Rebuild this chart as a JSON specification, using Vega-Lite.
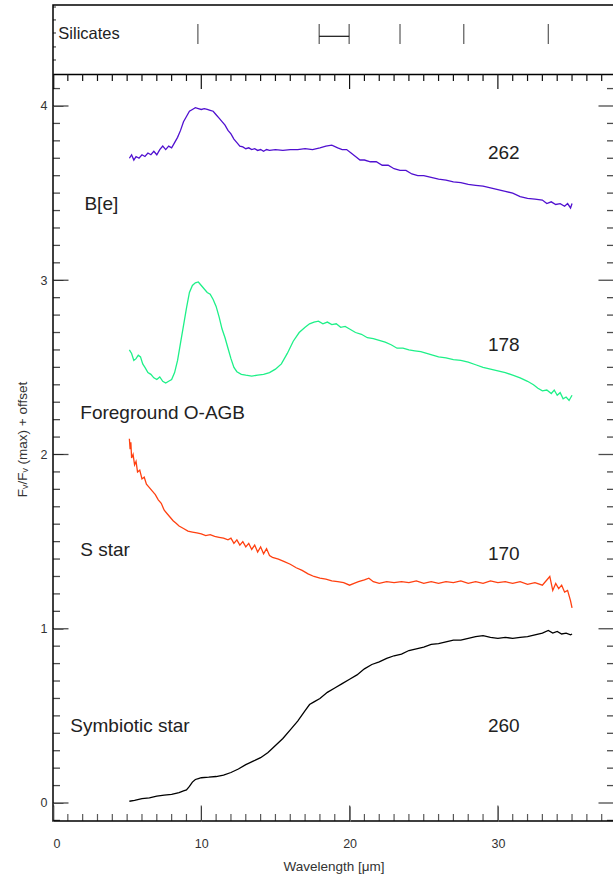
{
  "$schema": "https://vega.github.io/schema/vega-lite/v6.json",
  "autosize": {"type": "none"},
  "padding": {"left": 53, "top": 5, "right": 0, "bottom": 56},
  "width": 561,
  "height": 816,
  "config": {
    "view": {"stroke": "#000", "strokeWidth": 1.5},
    "font": "Liberation Sans",
    "axis": {"grid": false, "domain": false, "labelFont": "Liberation Sans", "titleFont": "Liberation Sans", "labelColor": "#333", "titleColor": "#333", "labelFontSize": 12.5, "titleFontSize": 13.5, "titleFontWeight": "normal"}
  },
  "datasets": {
    "spectra": [
      {"star":"B[e]","wl":5.15,"f":3.70},{"star":"B[e]","wl":5.3,"f":3.72},{"star":"B[e]","wl":5.45,"f":3.69},{"star":"B[e]","wl":5.6,"f":3.71},{"star":"B[e]","wl":5.8,"f":3.70},{"star":"B[e]","wl":6.0,"f":3.72},{"star":"B[e]","wl":6.2,"f":3.71},{"star":"B[e]","wl":6.4,"f":3.73},{"star":"B[e]","wl":6.6,"f":3.72},{"star":"B[e]","wl":6.8,"f":3.74},{"star":"B[e]","wl":7.0,"f":3.72},{"star":"B[e]","wl":7.2,"f":3.75},{"star":"B[e]","wl":7.4,"f":3.77},{"star":"B[e]","wl":7.6,"f":3.75},{"star":"B[e]","wl":7.8,"f":3.77},{"star":"B[e]","wl":8.0,"f":3.76},{"star":"B[e]","wl":8.2,"f":3.79},{"star":"B[e]","wl":8.4,"f":3.82},{"star":"B[e]","wl":8.6,"f":3.86},{"star":"B[e]","wl":8.8,"f":3.91},{"star":"B[e]","wl":9.0,"f":3.94},{"star":"B[e]","wl":9.2,"f":3.97},{"star":"B[e]","wl":9.4,"f":3.98},{"star":"B[e]","wl":9.6,"f":3.99},{"star":"B[e]","wl":9.8,"f":3.985},{"star":"B[e]","wl":10.0,"f":3.98},{"star":"B[e]","wl":10.2,"f":3.985},{"star":"B[e]","wl":10.4,"f":3.98},{"star":"B[e]","wl":10.6,"f":3.975},{"star":"B[e]","wl":10.8,"f":3.97},{"star":"B[e]","wl":11.0,"f":3.95},{"star":"B[e]","wl":11.2,"f":3.93},{"star":"B[e]","wl":11.4,"f":3.91},{"star":"B[e]","wl":11.6,"f":3.89},{"star":"B[e]","wl":11.8,"f":3.86},{"star":"B[e]","wl":12.0,"f":3.84},{"star":"B[e]","wl":12.2,"f":3.81},{"star":"B[e]","wl":12.4,"f":3.79},{"star":"B[e]","wl":12.6,"f":3.77},{"star":"B[e]","wl":12.8,"f":3.765},{"star":"B[e]","wl":13.0,"f":3.755},{"star":"B[e]","wl":13.2,"f":3.76},{"star":"B[e]","wl":13.4,"f":3.75},{"star":"B[e]","wl":13.6,"f":3.755},{"star":"B[e]","wl":13.8,"f":3.745},{"star":"B[e]","wl":14.0,"f":3.75},{"star":"B[e]","wl":14.2,"f":3.74},{"star":"B[e]","wl":14.4,"f":3.75},{"star":"B[e]","wl":14.6,"f":3.745},{"star":"B[e]","wl":15.0,"f":3.75},{"star":"B[e]","wl":15.5,"f":3.745},{"star":"B[e]","wl":16.0,"f":3.75},{"star":"B[e]","wl":16.5,"f":3.75},{"star":"B[e]","wl":17.0,"f":3.755},{"star":"B[e]","wl":17.5,"f":3.75},{"star":"B[e]","wl":18.0,"f":3.76},{"star":"B[e]","wl":18.4,"f":3.77},{"star":"B[e]","wl":18.8,"f":3.775},{"star":"B[e]","wl":19.2,"f":3.76},{"star":"B[e]","wl":19.5,"f":3.75},{"star":"B[e]","wl":19.8,"f":3.75},{"star":"B[e]","wl":20.1,"f":3.73},{"star":"B[e]","wl":20.4,"f":3.71},{"star":"B[e]","wl":20.7,"f":3.69},{"star":"B[e]","wl":21.0,"f":3.69},{"star":"B[e]","wl":21.4,"f":3.68},{"star":"B[e]","wl":21.8,"f":3.68},{"star":"B[e]","wl":22.2,"f":3.66},{"star":"B[e]","wl":22.6,"f":3.66},{"star":"B[e]","wl":23.0,"f":3.64},{"star":"B[e]","wl":23.4,"f":3.63},{"star":"B[e]","wl":23.8,"f":3.63},{"star":"B[e]","wl":24.2,"f":3.61},{"star":"B[e]","wl":24.6,"f":3.60},{"star":"B[e]","wl":25.0,"f":3.60},{"star":"B[e]","wl":25.5,"f":3.59},{"star":"B[e]","wl":26.0,"f":3.58},{"star":"B[e]","wl":26.5,"f":3.575},{"star":"B[e]","wl":27.0,"f":3.565},{"star":"B[e]","wl":27.5,"f":3.56},{"star":"B[e]","wl":28.0,"f":3.55},{"star":"B[e]","wl":28.5,"f":3.545},{"star":"B[e]","wl":29.0,"f":3.54},{"star":"B[e]","wl":29.5,"f":3.53},{"star":"B[e]","wl":30.0,"f":3.52},{"star":"B[e]","wl":30.5,"f":3.51},{"star":"B[e]","wl":31.0,"f":3.50},{"star":"B[e]","wl":31.5,"f":3.48},{"star":"B[e]","wl":32.0,"f":3.47},{"star":"B[e]","wl":32.5,"f":3.465},{"star":"B[e]","wl":33.0,"f":3.46},{"star":"B[e]","wl":33.3,"f":3.44},{"star":"B[e]","wl":33.6,"f":3.45},{"star":"B[e]","wl":33.9,"f":3.435},{"star":"B[e]","wl":34.2,"f":3.44},{"star":"B[e]","wl":34.5,"f":3.425},{"star":"B[e]","wl":34.7,"f":3.44},{"star":"B[e]","wl":34.9,"f":3.415},{"star":"B[e]","wl":35.0,"f":3.44},
      {"star":"Foreground O-AGB","wl":5.15,"f":2.60},{"star":"Foreground O-AGB","wl":5.3,"f":2.58},{"star":"Foreground O-AGB","wl":5.45,"f":2.54},{"star":"Foreground O-AGB","wl":5.6,"f":2.55},{"star":"Foreground O-AGB","wl":5.75,"f":2.57},{"star":"Foreground O-AGB","wl":5.9,"f":2.56},{"star":"Foreground O-AGB","wl":6.05,"f":2.52},{"star":"Foreground O-AGB","wl":6.2,"f":2.50},{"star":"Foreground O-AGB","wl":6.4,"f":2.47},{"star":"Foreground O-AGB","wl":6.6,"f":2.46},{"star":"Foreground O-AGB","wl":6.8,"f":2.44},{"star":"Foreground O-AGB","wl":7.0,"f":2.43},{"star":"Foreground O-AGB","wl":7.2,"f":2.445},{"star":"Foreground O-AGB","wl":7.4,"f":2.42},{"star":"Foreground O-AGB","wl":7.6,"f":2.41},{"star":"Foreground O-AGB","wl":7.8,"f":2.42},{"star":"Foreground O-AGB","wl":8.0,"f":2.43},{"star":"Foreground O-AGB","wl":8.2,"f":2.47},{"star":"Foreground O-AGB","wl":8.4,"f":2.54},{"star":"Foreground O-AGB","wl":8.6,"f":2.64},{"star":"Foreground O-AGB","wl":8.8,"f":2.74},{"star":"Foreground O-AGB","wl":9.0,"f":2.84},{"star":"Foreground O-AGB","wl":9.2,"f":2.93},{"star":"Foreground O-AGB","wl":9.4,"f":2.97},{"star":"Foreground O-AGB","wl":9.6,"f":2.985},{"star":"Foreground O-AGB","wl":9.8,"f":2.99},{"star":"Foreground O-AGB","wl":10.0,"f":2.97},{"star":"Foreground O-AGB","wl":10.2,"f":2.95},{"star":"Foreground O-AGB","wl":10.4,"f":2.93},{"star":"Foreground O-AGB","wl":10.6,"f":2.92},{"star":"Foreground O-AGB","wl":10.8,"f":2.89},{"star":"Foreground O-AGB","wl":11.0,"f":2.85},{"star":"Foreground O-AGB","wl":11.2,"f":2.79},{"star":"Foreground O-AGB","wl":11.4,"f":2.72},{"star":"Foreground O-AGB","wl":11.6,"f":2.67},{"star":"Foreground O-AGB","wl":11.8,"f":2.61},{"star":"Foreground O-AGB","wl":12.0,"f":2.55},{"star":"Foreground O-AGB","wl":12.2,"f":2.50},{"star":"Foreground O-AGB","wl":12.4,"f":2.475},{"star":"Foreground O-AGB","wl":12.7,"f":2.46},{"star":"Foreground O-AGB","wl":13.0,"f":2.455},{"star":"Foreground O-AGB","wl":13.4,"f":2.45},{"star":"Foreground O-AGB","wl":13.8,"f":2.455},{"star":"Foreground O-AGB","wl":14.2,"f":2.46},{"star":"Foreground O-AGB","wl":14.6,"f":2.47},{"star":"Foreground O-AGB","wl":15.0,"f":2.49},{"star":"Foreground O-AGB","wl":15.4,"f":2.52},{"star":"Foreground O-AGB","wl":15.8,"f":2.58},{"star":"Foreground O-AGB","wl":16.2,"f":2.65},{"star":"Foreground O-AGB","wl":16.6,"f":2.70},{"star":"Foreground O-AGB","wl":17.0,"f":2.73},{"star":"Foreground O-AGB","wl":17.3,"f":2.75},{"star":"Foreground O-AGB","wl":17.6,"f":2.76},{"star":"Foreground O-AGB","wl":17.9,"f":2.765},{"star":"Foreground O-AGB","wl":18.2,"f":2.75},{"star":"Foreground O-AGB","wl":18.5,"f":2.76},{"star":"Foreground O-AGB","wl":18.8,"f":2.745},{"star":"Foreground O-AGB","wl":19.1,"f":2.75},{"star":"Foreground O-AGB","wl":19.4,"f":2.73},{"star":"Foreground O-AGB","wl":19.7,"f":2.735},{"star":"Foreground O-AGB","wl":20.0,"f":2.72},{"star":"Foreground O-AGB","wl":20.4,"f":2.70},{"star":"Foreground O-AGB","wl":20.8,"f":2.69},{"star":"Foreground O-AGB","wl":21.2,"f":2.67},{"star":"Foreground O-AGB","wl":21.6,"f":2.665},{"star":"Foreground O-AGB","wl":22.0,"f":2.655},{"star":"Foreground O-AGB","wl":22.4,"f":2.645},{"star":"Foreground O-AGB","wl":22.8,"f":2.63},{"star":"Foreground O-AGB","wl":23.2,"f":2.61},{"star":"Foreground O-AGB","wl":23.6,"f":2.61},{"star":"Foreground O-AGB","wl":24.0,"f":2.60},{"star":"Foreground O-AGB","wl":24.4,"f":2.595},{"star":"Foreground O-AGB","wl":24.8,"f":2.59},{"star":"Foreground O-AGB","wl":25.2,"f":2.58},{"star":"Foreground O-AGB","wl":25.6,"f":2.57},{"star":"Foreground O-AGB","wl":26.0,"f":2.56},{"star":"Foreground O-AGB","wl":26.5,"f":2.555},{"star":"Foreground O-AGB","wl":27.0,"f":2.545},{"star":"Foreground O-AGB","wl":27.5,"f":2.54},{"star":"Foreground O-AGB","wl":28.0,"f":2.53},{"star":"Foreground O-AGB","wl":28.5,"f":2.515},{"star":"Foreground O-AGB","wl":29.0,"f":2.50},{"star":"Foreground O-AGB","wl":29.5,"f":2.49},{"star":"Foreground O-AGB","wl":30.0,"f":2.48},{"star":"Foreground O-AGB","wl":30.5,"f":2.47},{"star":"Foreground O-AGB","wl":31.0,"f":2.455},{"star":"Foreground O-AGB","wl":31.5,"f":2.44},{"star":"Foreground O-AGB","wl":32.0,"f":2.42},{"star":"Foreground O-AGB","wl":32.4,"f":2.40},{"star":"Foreground O-AGB","wl":32.7,"f":2.38},{"star":"Foreground O-AGB","wl":33.0,"f":2.365},{"star":"Foreground O-AGB","wl":33.3,"f":2.37},{"star":"Foreground O-AGB","wl":33.6,"f":2.35},{"star":"Foreground O-AGB","wl":33.8,"f":2.37},{"star":"Foreground O-AGB","wl":34.0,"f":2.34},{"star":"Foreground O-AGB","wl":34.2,"f":2.355},{"star":"Foreground O-AGB","wl":34.4,"f":2.32},{"star":"Foreground O-AGB","wl":34.6,"f":2.33},{"star":"Foreground O-AGB","wl":34.8,"f":2.31},{"star":"Foreground O-AGB","wl":35.0,"f":2.34},
      {"star":"S star","wl":5.15,"f":2.09},{"star":"S star","wl":5.2,"f":2.03},{"star":"S star","wl":5.25,"f":2.07},{"star":"S star","wl":5.3,"f":1.98},{"star":"S star","wl":5.4,"f":2.00},{"star":"S star","wl":5.5,"f":1.94},{"star":"S star","wl":5.6,"f":1.96},{"star":"S star","wl":5.7,"f":1.90},{"star":"S star","wl":5.85,"f":1.91},{"star":"S star","wl":6.0,"f":1.86},{"star":"S star","wl":6.15,"f":1.87},{"star":"S star","wl":6.3,"f":1.83},{"star":"S star","wl":6.5,"f":1.81},{"star":"S star","wl":6.7,"f":1.79},{"star":"S star","wl":6.9,"f":1.77},{"star":"S star","wl":7.1,"f":1.74},{"star":"S star","wl":7.3,"f":1.72},{"star":"S star","wl":7.5,"f":1.68},{"star":"S star","wl":7.7,"f":1.66},{"star":"S star","wl":7.9,"f":1.64},{"star":"S star","wl":8.1,"f":1.62},{"star":"S star","wl":8.3,"f":1.605},{"star":"S star","wl":8.5,"f":1.59},{"star":"S star","wl":8.8,"f":1.575},{"star":"S star","wl":9.1,"f":1.56},{"star":"S star","wl":9.4,"f":1.555},{"star":"S star","wl":9.7,"f":1.55},{"star":"S star","wl":10.0,"f":1.545},{"star":"S star","wl":10.3,"f":1.535},{"star":"S star","wl":10.6,"f":1.54},{"star":"S star","wl":10.9,"f":1.53},{"star":"S star","wl":11.2,"f":1.525},{"star":"S star","wl":11.5,"f":1.52},{"star":"S star","wl":11.8,"f":1.51},{"star":"S star","wl":12.0,"f":1.52},{"star":"S star","wl":12.2,"f":1.49},{"star":"S star","wl":12.4,"f":1.51},{"star":"S star","wl":12.6,"f":1.48},{"star":"S star","wl":12.8,"f":1.50},{"star":"S star","wl":13.0,"f":1.47},{"star":"S star","wl":13.2,"f":1.49},{"star":"S star","wl":13.4,"f":1.455},{"star":"S star","wl":13.6,"f":1.48},{"star":"S star","wl":13.8,"f":1.44},{"star":"S star","wl":14.0,"f":1.47},{"star":"S star","wl":14.2,"f":1.43},{"star":"S star","wl":14.4,"f":1.46},{"star":"S star","wl":14.6,"f":1.42},{"star":"S star","wl":14.8,"f":1.41},{"star":"S star","wl":15.2,"f":1.40},{"star":"S star","wl":15.6,"f":1.385},{"star":"S star","wl":16.0,"f":1.37},{"star":"S star","wl":16.4,"f":1.35},{"star":"S star","wl":16.8,"f":1.335},{"star":"S star","wl":17.2,"f":1.315},{"star":"S star","wl":17.6,"f":1.30},{"star":"S star","wl":18.0,"f":1.29},{"star":"S star","wl":18.4,"f":1.285},{"star":"S star","wl":18.8,"f":1.275},{"star":"S star","wl":19.2,"f":1.27},{"star":"S star","wl":19.6,"f":1.265},{"star":"S star","wl":20.0,"f":1.25},{"star":"S star","wl":20.3,"f":1.26},{"star":"S star","wl":20.6,"f":1.27},{"star":"S star","wl":21.0,"f":1.28},{"star":"S star","wl":21.3,"f":1.29},{"star":"S star","wl":21.6,"f":1.27},{"star":"S star","wl":22.0,"f":1.26},{"star":"S star","wl":22.5,"f":1.27},{"star":"S star","wl":23.0,"f":1.265},{"star":"S star","wl":23.5,"f":1.27},{"star":"S star","wl":24.0,"f":1.265},{"star":"S star","wl":24.5,"f":1.275},{"star":"S star","wl":25.0,"f":1.26},{"star":"S star","wl":25.5,"f":1.27},{"star":"S star","wl":26.0,"f":1.26},{"star":"S star","wl":26.5,"f":1.27},{"star":"S star","wl":27.0,"f":1.265},{"star":"S star","wl":27.5,"f":1.275},{"star":"S star","wl":28.0,"f":1.26},{"star":"S star","wl":28.5,"f":1.27},{"star":"S star","wl":29.0,"f":1.26},{"star":"S star","wl":29.5,"f":1.275},{"star":"S star","wl":30.0,"f":1.265},{"star":"S star","wl":30.5,"f":1.27},{"star":"S star","wl":31.0,"f":1.26},{"star":"S star","wl":31.5,"f":1.27},{"star":"S star","wl":32.0,"f":1.255},{"star":"S star","wl":32.5,"f":1.265},{"star":"S star","wl":33.0,"f":1.25},{"star":"S star","wl":33.3,"f":1.28},{"star":"S star","wl":33.5,"f":1.30},{"star":"S star","wl":33.7,"f":1.22},{"star":"S star","wl":33.9,"f":1.26},{"star":"S star","wl":34.1,"f":1.23},{"star":"S star","wl":34.3,"f":1.25},{"star":"S star","wl":34.5,"f":1.21},{"star":"S star","wl":34.7,"f":1.22},{"star":"S star","wl":34.9,"f":1.16},{"star":"S star","wl":35.0,"f":1.12},
      {"star":"Symbiotic star","wl":5.15,"f":0.01},{"star":"Symbiotic star","wl":5.5,"f":0.015},{"star":"Symbiotic star","wl":6.0,"f":0.025},{"star":"Symbiotic star","wl":6.5,"f":0.03},{"star":"Symbiotic star","wl":7.0,"f":0.04},{"star":"Symbiotic star","wl":7.5,"f":0.045},{"star":"Symbiotic star","wl":8.0,"f":0.05},{"star":"Symbiotic star","wl":8.5,"f":0.06},{"star":"Symbiotic star","wl":8.8,"f":0.07},{"star":"Symbiotic star","wl":9.0,"f":0.075},{"star":"Symbiotic star","wl":9.2,"f":0.095},{"star":"Symbiotic star","wl":9.4,"f":0.12},{"star":"Symbiotic star","wl":9.6,"f":0.135},{"star":"Symbiotic star","wl":9.8,"f":0.14},{"star":"Symbiotic star","wl":10.0,"f":0.145},{"star":"Symbiotic star","wl":10.5,"f":0.148},{"star":"Symbiotic star","wl":11.0,"f":0.152},{"star":"Symbiotic star","wl":11.5,"f":0.16},{"star":"Symbiotic star","wl":12.0,"f":0.175},{"star":"Symbiotic star","wl":12.5,"f":0.195},{"star":"Symbiotic star","wl":13.0,"f":0.22},{"star":"Symbiotic star","wl":13.5,"f":0.24},{"star":"Symbiotic star","wl":14.0,"f":0.26},{"star":"Symbiotic star","wl":14.5,"f":0.29},{"star":"Symbiotic star","wl":15.0,"f":0.33},{"star":"Symbiotic star","wl":15.5,"f":0.37},{"star":"Symbiotic star","wl":16.0,"f":0.42},{"star":"Symbiotic star","wl":16.5,"f":0.47},{"star":"Symbiotic star","wl":17.0,"f":0.53},{"star":"Symbiotic star","wl":17.3,"f":0.565},{"star":"Symbiotic star","wl":17.6,"f":0.58},{"star":"Symbiotic star","wl":18.0,"f":0.60},{"star":"Symbiotic star","wl":18.5,"f":0.635},{"star":"Symbiotic star","wl":19.0,"f":0.66},{"star":"Symbiotic star","wl":19.5,"f":0.685},{"star":"Symbiotic star","wl":20.0,"f":0.71},{"star":"Symbiotic star","wl":20.5,"f":0.735},{"star":"Symbiotic star","wl":21.0,"f":0.77},{"star":"Symbiotic star","wl":21.5,"f":0.795},{"star":"Symbiotic star","wl":22.0,"f":0.81},{"star":"Symbiotic star","wl":22.5,"f":0.83},{"star":"Symbiotic star","wl":23.0,"f":0.845},{"star":"Symbiotic star","wl":23.5,"f":0.855},{"star":"Symbiotic star","wl":24.0,"f":0.875},{"star":"Symbiotic star","wl":24.5,"f":0.885},{"star":"Symbiotic star","wl":25.0,"f":0.895},{"star":"Symbiotic star","wl":25.5,"f":0.91},{"star":"Symbiotic star","wl":26.0,"f":0.915},{"star":"Symbiotic star","wl":26.5,"f":0.925},{"star":"Symbiotic star","wl":27.0,"f":0.935},{"star":"Symbiotic star","wl":27.5,"f":0.935},{"star":"Symbiotic star","wl":28.0,"f":0.945},{"star":"Symbiotic star","wl":28.5,"f":0.955},{"star":"Symbiotic star","wl":29.0,"f":0.96},{"star":"Symbiotic star","wl":29.5,"f":0.95},{"star":"Symbiotic star","wl":30.0,"f":0.945},{"star":"Symbiotic star","wl":30.5,"f":0.95},{"star":"Symbiotic star","wl":31.0,"f":0.945},{"star":"Symbiotic star","wl":31.5,"f":0.95},{"star":"Symbiotic star","wl":32.0,"f":0.955},{"star":"Symbiotic star","wl":32.5,"f":0.965},{"star":"Symbiotic star","wl":33.0,"f":0.975},{"star":"Symbiotic star","wl":33.4,"f":0.99},{"star":"Symbiotic star","wl":33.7,"f":0.975},{"star":"Symbiotic star","wl":34.0,"f":0.985},{"star":"Symbiotic star","wl":34.3,"f":0.97},{"star":"Symbiotic star","wl":34.6,"f":0.975},{"star":"Symbiotic star","wl":34.9,"f":0.965},{"star":"Symbiotic star","wl":35.0,"f":0.97}
    ],
    "numbers": [
      {"t":"262","wl":30.4,"f":3.73},
      {"t":"178","wl":30.4,"f":2.63},
      {"t":"170","wl":30.4,"f":1.43},
      {"t":"260","wl":30.4,"f":0.44}
    ],
    "names": [
      {"t":"B[e]","wl":2.12,"f":3.44},
      {"t":"Foreground O-AGB","wl":1.84,"f":2.24},
      {"t":"S star","wl":1.84,"f":1.45},
      {"t":"Symbiotic star","wl":1.17,"f":0.44}
    ],
    "panel": [
      {"t":"Silicates","wl":0.36,"f":4.413}
    ],
    "features": [
      {"wl":9.77},
      {"wl":17.95,"wl2":19.97},
      {"wl":23.4},
      {"wl":27.7},
      {"wl":33.4}
    ],
    "wlaxis": [
      {"wl":0.05,"k":"major"},{"wl":1.0,"k":"minor"},{"wl":2.0,"k":"minor"},{"wl":3.0,"k":"minor"},{"wl":4.0,"k":"minor"},{"wl":5.0,"k":"minor"},{"wl":6.0,"k":"minor"},{"wl":7.0,"k":"minor"},{"wl":8.0,"k":"minor"},{"wl":9.0,"k":"minor"},
      {"wl":10.0,"k":"major"},{"wl":11.0,"k":"minor"},{"wl":12.0,"k":"minor"},{"wl":13.0,"k":"minor"},{"wl":14.0,"k":"minor"},{"wl":15.0,"k":"minor"},{"wl":16.0,"k":"minor"},{"wl":17.0,"k":"minor"},{"wl":18.0,"k":"minor"},{"wl":19.0,"k":"minor"},
      {"wl":20.0,"k":"major"},{"wl":21.0,"k":"minor"},{"wl":22.0,"k":"minor"},{"wl":23.0,"k":"minor"},{"wl":24.0,"k":"minor"},{"wl":25.0,"k":"minor"},{"wl":26.0,"k":"minor"},{"wl":27.0,"k":"minor"},{"wl":28.0,"k":"minor"},{"wl":29.0,"k":"minor"},
      {"wl":30.0,"k":"major"},{"wl":31.0,"k":"minor"},{"wl":32.0,"k":"minor"},{"wl":33.0,"k":"minor"},{"wl":34.0,"k":"minor"},{"wl":35.0,"k":"minor"},{"wl":36.0,"k":"minor"},{"wl":37.0,"k":"minor"}
    ],
    "yticks": [
      {"v":-0.1,"k":"minor"},{"v":0,"k":"major"},{"v":0.1,"k":"minor"},{"v":0.2,"k":"minor"},{"v":0.3,"k":"minor"},{"v":0.4,"k":"minor"},{"v":0.5,"k":"minor"},{"v":0.6,"k":"minor"},{"v":0.7,"k":"minor"},{"v":0.8,"k":"minor"},{"v":0.9,"k":"minor"},
      {"v":1,"k":"major"},{"v":1.1,"k":"minor"},{"v":1.2,"k":"minor"},{"v":1.3,"k":"minor"},{"v":1.4,"k":"minor"},{"v":1.5,"k":"minor"},{"v":1.6,"k":"minor"},{"v":1.7,"k":"minor"},{"v":1.8,"k":"minor"},{"v":1.9,"k":"minor"},
      {"v":2,"k":"major"},{"v":2.1,"k":"minor"},{"v":2.2,"k":"minor"},{"v":2.3,"k":"minor"},{"v":2.4,"k":"minor"},{"v":2.5,"k":"minor"},{"v":2.6,"k":"minor"},{"v":2.7,"k":"minor"},{"v":2.8,"k":"minor"},{"v":2.9,"k":"minor"},
      {"v":3,"k":"major"},{"v":3.1,"k":"minor"},{"v":3.2,"k":"minor"},{"v":3.3,"k":"minor"},{"v":3.4,"k":"minor"},{"v":3.5,"k":"minor"},{"v":3.6,"k":"minor"},{"v":3.7,"k":"minor"},{"v":3.8,"k":"minor"},{"v":3.9,"k":"minor"},
      {"v":4,"k":"major"},{"v":4.1,"k":"minor"}
    ],
    "pticks": [
      {"v":4.264},{"v":4.339},{"v":4.419},{"v":4.494},{"v":4.568}
    ]
  },
  "resolve": {"axis": {"x": "independent", "y": "independent"}},
  "layer": [
    {
      "data": {"name": "spectra"},
      "mark": {"type": "line", "strokeWidth": 1.3},
      "encoding": {
        "x": {"field": "wl", "type": "quantitative", "scale": {"domain": [0, 37.83], "nice": false, "zero": false},
          "axis": {"orient": "bottom", "values": [0, 10, 20, 30], "offset": -15, "tickSize": 15, "labelPadding": 26, "labelBaseline": "alphabetic", "title": "Wavelength [μm]", "titleY": 64, "titleBaseline": "alphabetic"}},
        "y": {"field": "f", "type": "quantitative", "scale": {"domain": [-0.1033, 4.5796], "nice": false, "zero": false},
          "axis": {"orient": "left", "values": [0, 1, 2, 3, 4], "offset": -10, "tickSize": 10, "labelPadding": 6, "title": "Fᵥ/Fᵥ (max) + offset", "titleX": -37, "titleY": 434, "titleAngle": -90, "titleBaseline": "alphabetic", "titleAlign": "center"}},
        "color": {"field": "star", "type": "nominal", "legend": null,
          "scale": {"domain": ["B[e]", "Foreground O-AGB", "S star", "Symbiotic star"], "range": ["#5010D0", "#1EF088", "#FF4010", "#000000"]}}
      }
    },
    {
      "data": {"name": "numbers"},
      "mark": {"type": "text", "fontSize": 19, "align": "center", "baseline": "middle", "color": "#222"},
      "encoding": {
        "x": {"field": "wl", "type": "quantitative", "scale": {"domain": [0, 37.83], "nice": false, "zero": false}, "axis": null},
        "y": {"field": "f", "type": "quantitative", "scale": {"domain": [-0.1033, 4.5796], "nice": false, "zero": false}, "axis": null},
        "text": {"field": "t"}
      }
    },
    {
      "data": {"name": "names"},
      "mark": {"type": "text", "fontSize": 19, "align": "left", "baseline": "middle", "color": "#222"},
      "encoding": {
        "x": {"field": "wl", "type": "quantitative", "scale": {"domain": [0, 37.83], "nice": false, "zero": false}, "axis": null},
        "y": {"field": "f", "type": "quantitative", "scale": {"domain": [-0.1033, 4.5796], "nice": false, "zero": false}, "axis": null},
        "text": {"field": "t"}
      }
    },
    {
      "data": {"name": "panel"},
      "mark": {"type": "text", "fontSize": 16.5, "align": "left", "baseline": "middle", "color": "#222"},
      "encoding": {
        "x": {"field": "wl", "type": "quantitative", "scale": {"domain": [0, 37.83], "nice": false, "zero": false}, "axis": null},
        "y": {"field": "f", "type": "quantitative", "scale": {"domain": [-0.1033, 4.5796], "nice": false, "zero": false}, "axis": null},
        "text": {"field": "t"}
      }
    },
    {
      "data": {"name": "features"},
      "mark": {"type": "tick", "orient": "vertical", "size": 20, "thickness": 1.2, "color": "#111"},
      "encoding": {
        "x": {"field": "wl", "type": "quantitative", "scale": {"domain": [0, 37.83], "nice": false, "zero": false}, "axis": null},
        "y": {"datum": 4.413, "type": "quantitative", "scale": {"domain": [-0.1033, 4.5796], "nice": false, "zero": false}, "axis": null}
      }
    },
    {
      "data": {"name": "features"},
      "transform": [{"filter": "isValid(datum.wl2)"}],
      "mark": {"type": "tick", "orient": "vertical", "size": 20, "thickness": 1.2, "color": "#111"},
      "encoding": {
        "x": {"field": "wl2", "type": "quantitative", "scale": {"domain": [0, 37.83], "nice": false, "zero": false}, "axis": null},
        "y": {"datum": 4.413, "type": "quantitative", "scale": {"domain": [-0.1033, 4.5796], "nice": false, "zero": false}, "axis": null}
      }
    },
    {
      "data": {"name": "features"},
      "transform": [{"filter": "isValid(datum.wl2)"}],
      "mark": {"type": "rule", "strokeWidth": 1.2, "color": "#111"},
      "encoding": {
        "x": {"field": "wl", "type": "quantitative", "scale": {"domain": [0, 37.83], "nice": false, "zero": false},
          "axis": {"orient": "top", "offset": -69, "ticks": false, "labels": false, "title": null, "domain": true, "domainColor": "#000", "domainWidth": 1.5}},
        "x2": {"field": "wl2"},
        "y": {"datum": 4.40, "type": "quantitative", "scale": {"domain": [-0.1033, 4.5796], "nice": false, "zero": false}, "axis": null}
      }
    },
    {
      "data": {"name": "wlaxis"},
      "mark": {"type": "tick", "orient": "vertical", "thickness": 1.2, "color": "#111", "clip": true},
      "encoding": {
        "x": {"field": "wl", "type": "quantitative", "scale": {"domain": [0, 37.83], "nice": false, "zero": false}, "axis": null},
        "y": {"datum": -0.1033, "type": "quantitative", "scale": {"domain": [-0.1033, 4.5796], "nice": false, "zero": false}, "axis": null},
        "size": {"field": "k", "type": "nominal", "legend": null, "scale": {"domain": ["minor", "major"], "range": [14, 31]}}
      }
    },
    {
      "data": {"name": "wlaxis"},
      "transform": [{"filter": "datum.k == 'minor'"}],
      "mark": {"type": "rule", "strokeWidth": 1.2, "color": "#111"},
      "encoding": {
        "x": {"field": "wl", "type": "quantitative", "scale": {"domain": [0, 37.83], "nice": false, "zero": false}, "axis": null},
        "y": {"datum": 4.1836, "type": "quantitative", "scale": {"domain": [-0.1033, 4.5796], "nice": false, "zero": false}, "axis": null},
        "y2": {"datum": 4.1434}
      }
    },
    {
      "data": {"name": "wlaxis"},
      "transform": [{"filter": "datum.k == 'major'"}],
      "mark": {"type": "rule", "strokeWidth": 1.2, "color": "#111"},
      "encoding": {
        "x": {"field": "wl", "type": "quantitative", "scale": {"domain": [0, 37.83], "nice": false, "zero": false}, "axis": null},
        "y": {"datum": 4.1836, "type": "quantitative", "scale": {"domain": [-0.1033, 4.5796], "nice": false, "zero": false}, "axis": null},
        "y2": {"datum": 4.0975}
      }
    },
    {
      "data": {"name": "yticks"},
      "mark": {"type": "tick", "orient": "horizontal", "thickness": 1.3, "color": "#000", "clip": true},
      "encoding": {
        "y": {"field": "v", "type": "quantitative", "scale": {"domain": [-0.1033, 4.5796], "nice": false, "zero": false}, "axis": null},
        "x": {"datum": 0, "type": "quantitative", "scale": {"domain": [0, 37.83], "nice": false, "zero": false}, "axis": null},
        "size": {"field": "k", "type": "nominal", "legend": null, "scale": {"domain": ["minor", "major"], "range": [10, 21]}}
      }
    },
    {
      "data": {"name": "yticks"},
      "mark": {"type": "tick", "orient": "horizontal", "thickness": 1.3, "color": "#000", "clip": true},
      "encoding": {
        "y": {"field": "v", "type": "quantitative", "scale": {"domain": [-0.1033, 4.5796], "nice": false, "zero": false}, "axis": null},
        "x": {"datum": 37.83, "type": "quantitative", "scale": {"domain": [0, 37.83], "nice": false, "zero": false}, "axis": null},
        "size": {"field": "k", "type": "nominal", "legend": null, "scale": {"domain": ["minor", "major"], "range": [10, 21]}}
      }
    },
    {
      "data": {"name": "pticks"},
      "mark": {"type": "tick", "orient": "horizontal", "thickness": 1.2, "color": "#000", "size": 6, "clip": true},
      "encoding": {
        "y": {"field": "v", "type": "quantitative", "scale": {"domain": [-0.1033, 4.5796], "nice": false, "zero": false}, "axis": null},
        "x": {"datum": 0, "type": "quantitative", "scale": {"domain": [0, 37.83], "nice": false, "zero": false}, "axis": null}
      }
    }
  ]
}
